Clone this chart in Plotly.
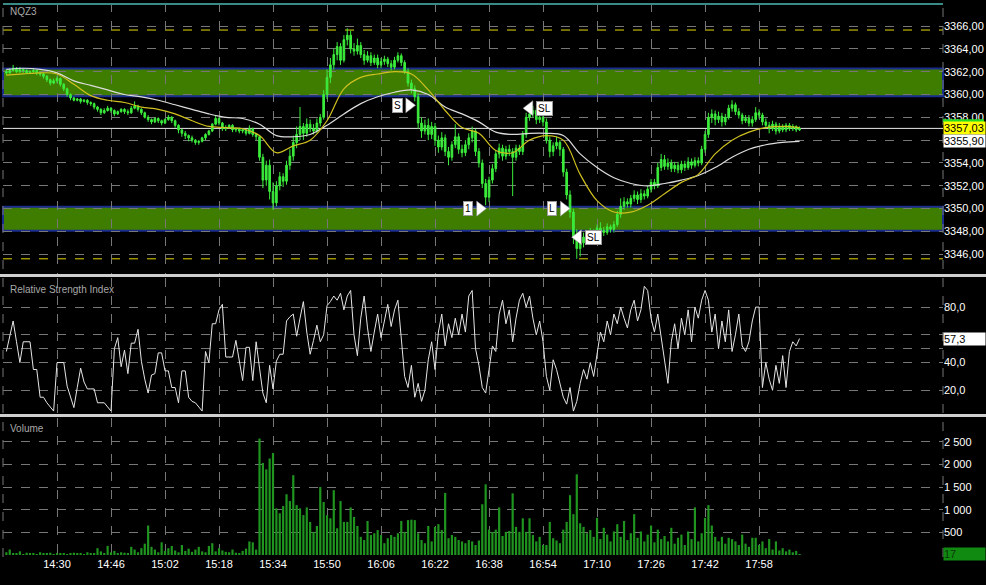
import pandas as pd
import plotly.graph_objects as go
from plotly.subplots import make_subplots

SYMBOL = "NQZ3"
SESSION_DAY = "2023-10-02"
FIRST_BAR = "14:15"

# one-minute bars, 14:15 .. 18:10
opens = [
    3362.0, 3361.9, 3362.1, 3362.3, 3362.0, 3362.2, 3362.1, 3361.9, 3362.0, 3362.1,
    3361.9, 3361.8, 3361.6, 3361.3, 3361.0, 3361.2, 3361.4, 3360.9, 3360.5, 3360.0,
    3359.7, 3359.5, 3359.6, 3359.4, 3359.5, 3359.3, 3359.2, 3358.9, 3358.7, 3358.4,
    3358.6, 3358.8, 3358.6, 3358.3, 3358.5, 3358.7, 3358.5, 3358.4, 3358.8, 3359.0,
    3358.7, 3358.4, 3358.0, 3357.8, 3357.6, 3357.9, 3357.7, 3357.5, 3357.8, 3358.0,
    3357.7, 3357.3, 3356.9, 3356.6, 3356.4, 3356.2, 3356.0, 3355.8, 3355.9, 3356.2,
    3356.5, 3356.8, 3357.4, 3357.9, 3357.5, 3357.0, 3357.1, 3357.3, 3356.9, 3357.0,
    3356.8, 3356.9, 3356.6, 3357.0, 3356.5, 3356.3, 3354.5, 3352.5, 3353.8, 3351.5,
    3350.5, 3352.0, 3352.8, 3352.4, 3353.8, 3354.6, 3355.8, 3356.5, 3357.2, 3356.6,
    3357.4, 3357.0, 3356.8, 3357.5, 3358.0, 3360.0, 3361.5, 3362.6, 3363.5, 3364.2,
    3363.0, 3364.8, 3365.2, 3364.0, 3363.8, 3364.3, 3363.5, 3363.0, 3363.4, 3362.8,
    3363.2, 3362.6, 3362.9, 3363.1, 3362.7, 3362.4, 3363.0, 3363.4, 3362.8, 3362.0,
    3361.0, 3360.5, 3359.8, 3357.5, 3356.8, 3357.3, 3356.5, 3357.2, 3356.0, 3355.4,
    3356.2, 3355.0, 3354.5, 3355.6, 3356.3, 3355.2, 3354.9, 3355.6, 3356.2, 3356.8,
    3355.0, 3354.0, 3352.2, 3351.0, 3352.5, 3353.5, 3354.8, 3355.3, 3354.6, 3355.2,
    3355.0, 3354.5, 3355.3, 3355.0, 3356.5, 3358.0, 3358.3, 3358.6, 3357.8, 3358.0,
    3357.6, 3356.0, 3355.0, 3355.5, 3355.8, 3355.2, 3353.2, 3351.2, 3349.7, 3347.5,
    3346.5, 3347.0, 3347.5, 3347.2, 3348.0, 3347.8, 3348.3, 3348.1, 3347.9, 3348.4,
    3348.2, 3348.6, 3349.5, 3350.2, 3350.6, 3350.4, 3350.9, 3351.2, 3350.8, 3351.3,
    3351.1, 3351.7, 3352.3, 3352.0, 3353.6, 3354.3, 3353.7, 3354.0, 3353.5, 3353.8,
    3353.4, 3353.9, 3353.6, 3354.1, 3353.8, 3354.2, 3354.0, 3355.2, 3356.5, 3358.0,
    3358.3, 3357.8, 3358.1, 3357.6, 3358.0, 3358.8, 3359.1, 3358.5, 3358.2, 3357.7,
    3357.9, 3357.5, 3357.8, 3358.4, 3358.2, 3357.6, 3357.3, 3357.0, 3357.4, 3356.8,
    3357.2, 3356.9, 3357.3, 3357.0, 3357.2, 3356.9,
]
highs = [
    3362.2, 3362.3, 3362.6, 3362.4, 3362.4, 3362.3, 3362.2, 3362.1, 3362.3, 3362.2,
    3362.0, 3361.9, 3361.7, 3361.4, 3361.4, 3361.6, 3361.5, 3361.0, 3360.6, 3360.1,
    3359.8, 3359.7, 3359.7, 3359.6, 3359.6, 3359.4, 3359.3, 3359.0, 3358.8, 3358.8,
    3359.0, 3358.9, 3358.7, 3358.6, 3358.8, 3358.8, 3358.7, 3359.0, 3359.4, 3359.1,
    3358.8, 3358.5, 3358.2, 3357.9, 3358.0, 3358.0, 3357.8, 3357.9, 3358.2, 3358.1,
    3357.8, 3357.4, 3357.0, 3356.8, 3356.5, 3356.4, 3356.1, 3356.0, 3356.3, 3356.6,
    3356.9, 3357.5, 3358.2, 3358.0, 3357.6, 3357.3, 3357.4, 3357.4, 3357.1, 3357.1,
    3357.0, 3357.0, 3357.3, 3357.1, 3356.6, 3356.4, 3354.8, 3354.2, 3354.3, 3352.3,
    3352.4, 3353.2, 3353.1, 3354.2, 3355.2, 3356.4, 3357.2, 3358.9, 3357.5, 3357.9,
    3357.8, 3357.4, 3357.9, 3358.3, 3360.4, 3362.2, 3363.2, 3364.0, 3364.6, 3364.5,
    3365.2, 3365.8, 3365.6, 3364.5, 3364.9, 3364.6, 3363.9, 3363.8, 3363.7, 3363.5,
    3363.5, 3363.2, 3363.4, 3363.3, 3363.0, 3363.3, 3363.7, 3363.6, 3363.0, 3362.3,
    3361.3, 3360.8, 3360.1, 3358.0, 3357.8, 3357.9, 3357.6, 3357.5, 3356.4, 3356.7,
    3356.5, 3355.4, 3355.9, 3357.4, 3356.6, 3355.6, 3356.0, 3356.6, 3357.2, 3357.0,
    3355.3, 3354.3, 3352.6, 3352.8, 3353.9, 3355.1, 3355.7, 3355.6, 3355.5, 3355.6,
    3355.3, 3355.6, 3355.6, 3356.8, 3358.4, 3358.7, 3359.0, 3358.8, 3358.3, 3358.3,
    3357.9, 3356.3, 3355.8, 3356.3, 3356.0, 3355.4, 3353.5, 3351.6, 3350.0, 3348.2,
    3347.4, 3347.9, 3347.8, 3348.3, 3348.2, 3348.6, 3348.8, 3348.4, 3348.7, 3348.6,
    3348.9, 3349.8, 3350.9, 3351.0, 3350.9, 3351.2, 3351.6, 3351.5, 3351.7, 3351.6,
    3352.0, 3352.6, 3352.6, 3354.0, 3354.8, 3354.7, 3354.4, 3354.3, 3354.1, 3354.1,
    3354.2, 3354.2, 3354.5, 3354.4, 3354.5, 3354.5, 3355.5, 3356.8, 3358.4, 3358.7,
    3358.6, 3358.5, 3358.4, 3358.3, 3359.1, 3359.5, 3359.3, 3358.8, 3358.4, 3358.2,
    3358.2, 3358.1, 3358.9, 3358.7, 3358.4, 3357.9, 3357.6, 3357.7, 3357.6, 3357.5,
    3357.4, 3357.5, 3357.5, 3357.4, 3357.3, 3357.2,
]
lows = [
    3361.7, 3361.8, 3362.0, 3361.9, 3361.9, 3361.9, 3361.8, 3361.8, 3361.9, 3361.7,
    3361.6, 3361.4, 3361.1, 3360.8, 3360.9, 3361.0, 3360.7, 3360.3, 3359.8, 3359.5,
    3359.4, 3359.4, 3359.2, 3359.3, 3359.1, 3359.0, 3358.7, 3358.5, 3358.2, 3358.3,
    3358.5, 3358.4, 3358.1, 3358.2, 3358.4, 3358.3, 3358.2, 3358.3, 3358.7, 3358.5,
    3358.2, 3357.9, 3357.6, 3357.4, 3357.5, 3357.5, 3357.3, 3357.4, 3357.7, 3357.5,
    3357.1, 3356.6, 3356.3, 3356.1, 3355.9, 3355.8, 3355.6, 3355.6, 3355.8, 3356.0,
    3356.4, 3356.7, 3357.3, 3357.3, 3356.8, 3356.8, 3357.0, 3356.7, 3356.7, 3356.6,
    3356.6, 3356.4, 3356.5, 3356.3, 3356.0, 3354.2, 3351.8, 3352.0, 3350.8, 3349.9,
    3350.2, 3351.6, 3351.9, 3352.1, 3353.4, 3354.2, 3355.3, 3356.0, 3356.0, 3356.3,
    3356.7, 3356.5, 3356.6, 3357.2, 3357.8, 3359.6, 3361.0, 3362.2, 3363.0, 3362.6,
    3362.8, 3364.3, 3363.6, 3363.4, 3363.5, 3363.2, 3362.6, 3362.8, 3362.5, 3362.6,
    3362.3, 3362.3, 3362.6, 3362.4, 3362.1, 3362.2, 3362.8, 3362.5, 3361.8, 3360.7,
    3360.1, 3359.4, 3357.0, 3356.2, 3356.5, 3356.0, 3356.1, 3355.5, 3354.9, 3355.1,
    3354.6, 3353.8, 3354.2, 3355.3, 3354.8, 3354.5, 3354.6, 3355.2, 3355.8, 3354.6,
    3353.6, 3351.8, 3350.3, 3350.6, 3352.2, 3353.2, 3354.4, 3354.2, 3354.3, 3354.6,
    3351.1, 3354.2, 3354.7, 3354.7, 3356.2, 3357.7, 3358.0, 3357.4, 3357.5, 3357.2,
    3355.7, 3354.5, 3354.6, 3355.2, 3354.6, 3352.8, 3350.8, 3349.2, 3346.9, 3345.6,
    3345.8, 3346.6, 3346.9, 3346.9, 3347.5, 3347.5, 3347.8, 3347.6, 3347.7, 3347.9,
    3347.9, 3348.4, 3349.2, 3349.9, 3350.1, 3350.1, 3350.6, 3350.4, 3350.5, 3350.8,
    3350.9, 3351.4, 3351.7, 3351.8, 3353.3, 3353.4, 3353.4, 3353.2, 3353.2, 3353.1,
    3353.1, 3353.3, 3353.4, 3353.5, 3353.6, 3353.7, 3353.8, 3354.9, 3356.2, 3357.5,
    3357.3, 3357.5, 3357.2, 3357.3, 3357.8, 3358.5, 3358.2, 3357.9, 3357.4, 3357.5,
    3357.2, 3357.2, 3357.6, 3357.9, 3357.3, 3357.0, 3356.6, 3356.8, 3356.5, 3356.6,
    3356.7, 3356.7, 3356.8, 3356.8, 3356.7, 3356.8,
]
closes = [
    3361.9, 3362.1, 3362.3, 3362.0, 3362.2, 3362.1, 3361.9, 3362.0, 3362.1, 3361.9,
    3361.8, 3361.6, 3361.3, 3361.0, 3361.2, 3361.4, 3360.9, 3360.5, 3360.0, 3359.7,
    3359.5, 3359.6, 3359.4, 3359.5, 3359.3, 3359.2, 3358.9, 3358.7, 3358.4, 3358.6,
    3358.8, 3358.6, 3358.3, 3358.5, 3358.7, 3358.5, 3358.4, 3358.8, 3359.0, 3358.7,
    3358.4, 3358.0, 3357.8, 3357.6, 3357.9, 3357.7, 3357.5, 3357.8, 3358.0, 3357.7,
    3357.3, 3356.9, 3356.6, 3356.4, 3356.2, 3356.0, 3355.8, 3355.9, 3356.2, 3356.5,
    3356.8, 3357.4, 3357.9, 3357.5, 3357.0, 3357.1, 3357.3, 3356.9, 3357.0, 3356.8,
    3356.9, 3356.6, 3357.0, 3356.5, 3356.3, 3354.5, 3352.5, 3353.8, 3351.5, 3350.5,
    3352.0, 3352.8, 3352.4, 3353.8, 3354.6, 3355.8, 3356.5, 3357.2, 3356.6, 3357.4,
    3357.0, 3356.8, 3357.5, 3358.0, 3360.0, 3361.5, 3362.6, 3363.5, 3364.2, 3363.0,
    3364.8, 3365.2, 3364.0, 3363.8, 3364.3, 3363.5, 3363.0, 3363.4, 3362.8, 3363.2,
    3362.6, 3362.9, 3363.1, 3362.7, 3362.4, 3363.0, 3363.4, 3362.8, 3362.0, 3361.0,
    3360.5, 3359.8, 3357.5, 3356.8, 3357.3, 3356.5, 3357.2, 3356.0, 3355.4, 3356.2,
    3355.0, 3354.5, 3355.6, 3356.3, 3355.2, 3354.9, 3355.6, 3356.2, 3356.8, 3355.0,
    3354.0, 3352.2, 3351.0, 3352.5, 3353.5, 3354.8, 3355.3, 3354.6, 3355.2, 3355.0,
    3354.5, 3355.3, 3355.0, 3356.5, 3358.0, 3358.3, 3358.6, 3357.8, 3358.0, 3357.6,
    3356.0, 3355.0, 3355.5, 3355.8, 3355.2, 3353.2, 3351.2, 3349.7, 3347.5, 3346.5,
    3347.0, 3347.5, 3347.2, 3348.0, 3347.8, 3348.3, 3348.1, 3347.9, 3348.4, 3348.2,
    3348.6, 3349.5, 3350.2, 3350.6, 3350.4, 3350.9, 3351.2, 3350.8, 3351.3, 3351.1,
    3351.7, 3352.3, 3352.0, 3353.6, 3354.3, 3353.7, 3354.0, 3353.5, 3353.8, 3353.4,
    3353.9, 3353.6, 3354.1, 3353.8, 3354.2, 3354.0, 3355.2, 3356.5, 3358.0, 3358.3,
    3357.8, 3358.1, 3357.6, 3358.0, 3358.8, 3359.1, 3358.5, 3358.2, 3357.7, 3357.9,
    3357.5, 3357.8, 3358.4, 3358.2, 3357.6, 3357.3, 3357.0, 3357.4, 3356.8, 3357.2,
    3356.9, 3357.3, 3357.0, 3357.2, 3356.9, 3357.03,
]
volumes = [
    60, 120, 40, 30, 80, 20, 50, 30, 40, 20,
    60, 30, 40, 50, 20, 30, 40, 30, 20, 40,
    50, 30, 40, 20, 60, 40, 30, 150, 80, 40,
    200, 60, 90, 40, 60, 50, 40, 180, 120, 60,
    150, 250, 650, 180, 120, 60, 280, 90, 150, 200,
    100, 60, 220, 90, 140, 70, 120, 180, 80, 60,
    200, 260, 80, 150, 100, 70, 60, 120, 50, 40,
    90, 140, 300, 280, 120, 2570, 2030, 1890, 2130, 2250,
    1030, 920, 1080, 1340, 1190, 1760, 1100, 1030, 880, 1050,
    730, 510, 640, 1500, 1170, 880, 810, 1430, 590, 1190,
    730, 730, 1050, 840, 640, 400, 330, 750, 440, 480,
    550, 440, 260, 370, 440, 400, 480, 750, 510, 770,
    780, 770, 480, 330, 260, 640, 300, 620, 680, 550,
    1370, 370, 440, 400, 330, 300, 260, 330, 300, 220,
    320, 1120, 1560, 560, 510, 560, 1050, 420, 510, 530,
    1360, 620, 510, 810, 510, 810, 440, 300, 400, 220,
    220, 730, 370, 320, 260, 560, 730, 1320, 900, 1780,
    700, 620, 480, 550, 400, 820, 350, 600, 450, 300,
    520, 680, 400, 750, 330, 480, 900, 380, 520, 300,
    450, 650, 280, 560, 350, 420, 300, 600, 250, 380,
    450, 220, 520, 350, 1050, 300, 480, 820, 1100, 650,
    400, 300, 400, 250, 380, 350, 300, 220, 450, 250,
    180, 380, 380, 220, 300, 150, 350, 120, 300, 100,
    150, 80, 120, 60, 90, 17,
]
rsi = [
    48, 60, 70, 55, 40, 55, 55, 55, 35, 35,
    15, 15, 11, 8, 5, 40, 40, 40, 23, 15,
    7.5, 22, 36, 26, 21, 21, 21, 11, 11, 11,
    8, 5, 50, 58, 37, 49, 32, 54, 54, 64,
    41, 28, 18, 31, 32, 47, 47, 34, 34, 22,
    22, 11, 34, 34, 15, 12, 11, 8, 5, 48,
    40, 68, 68, 78, 82, 44, 44, 44, 56, 42,
    27, 51, 51, 27, 55, 36, 18, 11, 38, 21,
    41, 46, 46, 70, 73, 75, 59, 72, 84, 62,
    46, 56, 67, 55, 60, 81, 84, 88,
    85, 90, 78, 88, 92, 60, 45, 72, 88, 65,
    48, 62, 75, 58, 70, 82, 66, 78, 85, 60,
    30, 22, 38, 15, 25, 12, 20, 42, 55, 35,
    62, 75, 52, 68, 58, 72, 60, 75, 62, 88,
    92, 50, 38, 22, 18, 35, 52, 48, 75, 85,
    68, 78, 55, 72, 85, 90, 80, 88, 72, 60,
    70, 55, 30, 20, 42, 35, 25, 15, 10, 22,
    5, 12, 25, 35, 28, 40, 30, 48, 62, 55,
    70, 60, 75, 68, 80, 72, 65, 78, 85, 70,
    78, 95, 92, 72, 62, 75, 58, 40, 25, 55,
    68, 50, 72, 60, 78, 55, 80, 72, 85, 92,
    85, 62, 75, 50, 70, 55, 78, 48, 60, 75,
    52, 48, 55, 70, 80, 80, 22, 40, 28, 20,
    38, 25, 45, 22, 48, 55, 52, 57.3,
]

# moving averages, read every 5th bar
ma_step = 5
ma_fast = [
    3361.7, 3361.8, 3361.9, 3361.8, 3360.9, 3359.9, 3359.5, 3359.3, 3358.9, 3358.7,
    3358.3, 3357.7, 3357.2, 3357.1, 3357.0, 3356.4, 3354.9, 3355.5, 3356.0, 3357.7,
    3360.5, 3361.5, 3361.8, 3362.0, 3361.8, 3360.4, 3358.6, 3357.1, 3356.6, 3355.1,
    3354.9, 3356.0, 3356.4, 3356.0, 3353.0, 3350.7, 3349.7, 3349.7, 3350.3, 3351.3,
    3352.3, 3353.0, 3354.8, 3356.0, 3356.7, 3357.1, 3357.2, 3357.1,
]
ma_slow = [
    3362.2, 3362.3, 3362.2, 3361.9, 3361.2, 3360.8, 3360.4, 3360.0, 3359.8, 3359.5,
    3359.1, 3358.7, 3358.3, 3358.0, 3357.9, 3357.4, 3356.4, 3356.3, 3356.5, 3357.3,
    3358.3, 3359.2, 3359.8, 3360.2, 3360.4, 3360.0, 3358.9, 3358.3, 3357.6, 3356.7,
    3356.5, 3356.6, 3356.6, 3356.4, 3354.8, 3353.6, 3352.7, 3352.2, 3352.0, 3352.2,
    3352.5, 3352.9, 3353.6, 3354.5, 3355.2, 3355.6, 3355.8, 3355.9,
]

zones = [(3359.84, 3362.28), (3348.05, 3350.16)]
alert_levels = [3365.65, 3345.6]

signal_labels = ["S", "SL", "1", "L", "SL"]
signal_times = ["16:14:18", "16:50:00", "16:35:18", "17:00:06", "17:04:24"]
signal_prices = [3359.05, 3358.8, 3350.0, 3350.0, 3347.5]
signal_sides = ["right", "left", "right", "right", "left"]

time_ticks = ["14:30", "14:46", "15:02", "15:18", "15:34", "15:50", "16:06",
              "16:22", "16:38", "16:54", "17:10", "17:26", "17:42", "17:58"]
price_ticks = [3346, 3348, 3350, 3352, 3354, 3356, 3358, 3360, 3362, 3364, 3366]
rsi_ticks = [20, 40, 50, 60, 80]
rsi_labels = ["20,0", "40,0", "", "", "80,0"]
vol_ticks = [0, 500, 1000, 1500, 2000, 2500]
vol_labels = ["", "500", "1 000", "1 500", "2 000", "2 500"]

W, H = 986, 585
FONT = "Liberation Sans, Arial, sans-serif"
GRID = "#777777"
CANDLE = "#3cec3c"


def py(px):
    return 1 - px / H


def px_x(px):
    return px / W


def comma(v, nd):
    return f"{v:.{nd}f}".replace(".", ",")


times = pd.date_range(f"{SESSION_DAY} {FIRST_BAR}", periods=len(closes), freq="min")
ma_times = times[::ma_step][:len(ma_fast)]
x_range = [pd.Timestamp(f"{SESSION_DAY} 14:14:00"), pd.Timestamp(f"{SESSION_DAY} 18:52:30")]
tick_times = [pd.Timestamp(f"{SESSION_DAY} {t}") for t in time_ticks]

fig = make_subplots(rows=3, cols=1, shared_xaxes=True, vertical_spacing=0.01)

fig.add_trace(go.Candlestick(
    x=times[:len(opens)], open=opens, high=highs, low=lows, close=closes,
    increasing=dict(line=dict(color=CANDLE, width=1), fillcolor=CANDLE),
    decreasing=dict(line=dict(color=CANDLE, width=1), fillcolor=CANDLE),
    whiskerwidth=0, hoverinfo="skip",
), row=1, col=1)
fig.add_trace(go.Scatter(x=ma_times, y=ma_slow, mode="lines", line=dict(color="#dcdcdc", width=1.2, shape="spline"),
                         hoverinfo="skip"), row=1, col=1)
fig.add_trace(go.Scatter(x=ma_times, y=ma_fast, mode="lines", line=dict(color="#cfc020", width=1.2, shape="spline"),
                         hoverinfo="skip"), row=1, col=1)

# trade markers
sig_x = [pd.Timestamp(f"{SESSION_DAY} {t}") for t in signal_times]
fig.add_trace(go.Scatter(
    x=sig_x, y=signal_prices, mode="markers",
    marker=dict(symbol=["triangle-right" if s == "right" else "triangle-left" for s in signal_sides],
                size=13, color="white", line=dict(color="#909090", width=0.5)),
    hoverinfo="skip",
), row=1, col=1)

fig.add_trace(go.Scatter(x=times[:len(rsi)], y=rsi, mode="lines", line=dict(color="#e6e6e6", width=1),
                         hoverinfo="skip"), row=2, col=1)

fig.add_trace(go.Bar(x=times[:len(volumes)], y=volumes, marker=dict(color="#1f951f", line=dict(width=0)),
                     hoverinfo="skip"), row=3, col=1)

axis_font = dict(family=FONT, size=11, color="#ffffff")
x_common = dict(
    type="date", range=x_range, tickvals=tick_times, ticktext=time_ticks,
    showgrid=True, griddash="dash", gridcolor=GRID, gridwidth=1,
    zeroline=False, showline=False, ticks="", domain=[px_x(3), px_x(943)],
    tickfont=axis_font, rangeslider=dict(visible=False), automargin=False,
)
fig.update_layout(
    xaxis=dict(x_common, showticklabels=False),
    xaxis2=dict(x_common, showticklabels=False),
    xaxis3=dict(x_common, showticklabels=True),
)
y_common = dict(side="right", showgrid=True, griddash="dash", gridcolor=GRID, gridwidth=1,
                zeroline=False, showline=False, ticks="", tickfont=axis_font, automargin=False)
fig.update_layout(
    yaxis=dict(y_common, domain=[py(274), py(3)], range=[3344.27, 3368.02],
               tickvals=price_ticks, ticktext=[comma(v, 2) for v in price_ticks]),
    yaxis2=dict(y_common, domain=[py(414), py(278)], range=[2.9, 101],
                tickvals=rsi_ticks, ticktext=rsi_labels),
    yaxis3=dict(y_common, domain=[py(556), py(418)], range=[-22, 3023],
                tickvals=vol_ticks, ticktext=vol_labels),
)

shapes = []
for lo, hi in zones:
    shapes.append(dict(type="rect", xref="x domain", yref="y", x0=0, x1=1, y0=lo, y1=hi,
                       fillcolor="#3f7d00", line=dict(color="#1a2c8c", width=2), layer="below"))
for lvl in alert_levels:
    shapes.append(dict(type="line", xref="x domain", yref="y", x0=0, x1=1, y0=lvl, y1=lvl,
                       line=dict(color="#e6d800", width=1, dash="dash"), layer="below"))
shapes.append(dict(type="line", xref="x domain", yref="y", x0=0, x1=1, y0=closes[-1], y1=closes[-1],
                   line=dict(color="#e8e8e8", width=1), layer="below"))
shapes.append(dict(type="line", xref="paper", yref="paper", x0=px_x(3), x1=px_x(943), y0=py(4), y1=py(4),
                   line=dict(color="#3a8a86", width=2)))
for top in (274, 414):
    shapes.append(dict(type="rect", xref="paper", yref="paper", x0=0, x1=1, y0=py(top + 3), y1=py(top),
                       fillcolor="#cfcfcf", line=dict(width=0)))
for xp in (3, 943):
    shapes.append(dict(type="line", xref="paper", yref="paper", x0=px_x(xp), x1=px_x(xp), y0=py(557), y1=1,
                       line=dict(color=GRID, width=1, dash="dash")))
shapes.append(dict(type="rect", xref="paper", yref="y", x0=px_x(943), x1=px_x(984),
                   y0=closes[-1] + 0.55, y1=closes[-1] + 0.8, fillcolor="#22dd22", line=dict(width=0)))
fig.update_layout(shapes=shapes)

annotations = []
for txt, ypx in ((SYMBOL, 11), ("Relative Strength Index", 289), ("Volume", 428)):
    annotations.append(dict(text=txt, xref="paper", yref="paper", x=px_x(8), y=py(ypx),
                            xanchor="left", yanchor="middle", showarrow=False,
                            font=dict(family=FONT, size=10, color="#a8a8a8")))

for lab, t, p, side in zip(signal_labels, sig_x, signal_prices, signal_sides):
    shift = -12 if side == "right" else 12 + 3 * (len(lab) - 1)
    annotations.append(dict(text=lab, x=t, y=p, xref="x", yref="y", showarrow=False,
                            xshift=shift, bgcolor="white", bordercolor="#9a9a9a", borderwidth=1,
                            borderpad=1, font=dict(family=FONT, size=10, color="black")))

value_boxes = [
    (comma(closes[-1], 2), "y", closes[-1], "#ffff00", "black"),
    (comma(ma_slow[-1], 2), "y", ma_slow[-1], "#ffffff", "black"),
    (comma(rsi[-1], 1), "y2", rsi[-1], "#ffffff", "black"),
    (str(volumes[-1]), "y3", volumes[-1], "#118a11", "#0b3a0b"),
]
for txt, yref, val, bg, fg in value_boxes:
    annotations.append(dict(text=txt, xref="paper", yref=yref, x=px_x(943), y=val,
                            xanchor="left", yanchor="middle", showarrow=False, align="left",
                            width=41, height=12, bgcolor=bg, borderpad=0,
                            font=dict(family=FONT, size=11, color=fg)))
fig.update_layout(annotations=annotations)

fig.update_layout(
    width=W, height=H,
    margin=dict(l=0, r=0, t=0, b=0),
    paper_bgcolor="black", plot_bgcolor="black",
    showlegend=False, separators=", ",
    bargap=0.35,
    font=dict(family=FONT, color="white"),
)

# page body margin would shift the whole chart by 8px
fig.write_html("out.html", config={"displayModeBar": False},
               post_script="document.body.style.margin='0px';")
